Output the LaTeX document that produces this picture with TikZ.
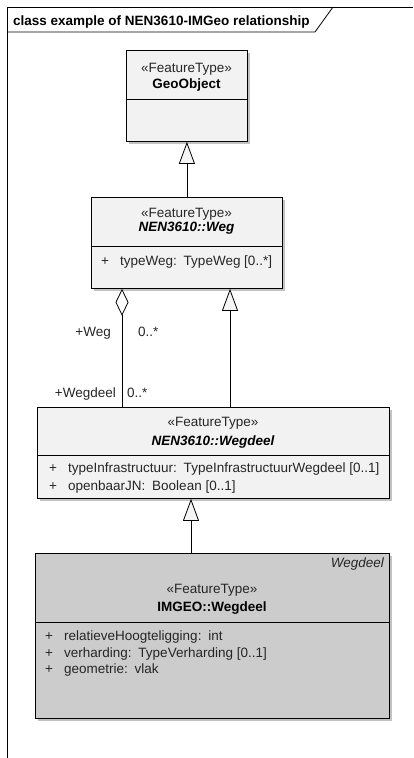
\documentclass[tikz,border=0pt]{standalone}
\usepackage{fontspec}
\setmainfont{Liberation Sans}
\usetikzlibrary{positioning,arrows.meta,shadows}

\newcommand{\plus}{\makebox[19pt][l]{+}}

\begin{document}
\begin{tikzpicture}[x=1pt,y=-1pt,font=\fontsize{13.5}{16}\selectfont,
 cls/.style={draw=black,line width=0.8pt,fill=black!5,anchor=north west,inner sep=0pt,
  drop shadow={shadow xshift=3pt,shadow yshift=-3pt,fill=black!24,opacity=1}},
 stereo/.style={anchor=base,inner sep=0pt,text=black!85},
 cname/.style={anchor=base,inner sep=0pt,font=\fontsize{13.5}{16}\selectfont\bfseries},
 attr/.style={anchor=base west,inner sep=0pt,text=black!85},
 lbl/.style={inner sep=0pt,text=black!85},
 sep/.style={line width=0.8pt},
 gen/.style={-{Triangle[length=22pt,width=16pt,fill=black!4]},line width=0.8pt},
 agg/.style={{Diamond[length=27pt,width=13pt,fill=white]}-,line width=0.8pt}]
\useasboundingbox (0,0) rectangle (413,758);
% diagram frame and title tab
\draw[line width=0.8pt] (413,7) -- (7,7) -- (7,760);
\draw[line width=0.8pt] (7,32) -- (315,32) -- (333,7);
\node[anchor=base west,inner sep=0pt,font=\fontsize{13.5}{16}\selectfont\bfseries] (title) at (13,25) {class example of NEN3610-IMGeo relationship};
% classes
\node[cls,minimum width=121pt,minimum height=91pt] (geo) at (126,50) {};
\draw[sep] (geo.west |- 0,99) -- (geo.east |- 0,99);
\node[stereo] (geost) at (186.5,72) {«FeatureType»};
\node[cname] (geonm) at (186.5,88) {GeoObject};
\node[cls,minimum width=191pt,minimum height=91pt] (weg) at (91,197) {};
\draw[sep] (weg.west |- 0,246) -- (weg.east |- 0,246);
\node[stereo] (wegst) at (186.5,217) {«FeatureType»};
\node[cname,font=\fontsize{13.5}{16}\selectfont\bfseries\itshape] (wegnm) at (186.5,231) {NEN3610::Weg};
\node[attr] (wega1) at (101,265) {\plus typeWeg:\enspace TypeWeg [0..*]};
\node[cls,minimum width=352pt,minimum height=91pt] (wegdeel) at (37,407) {};
\draw[sep] (wegdeel.west |- 0,455) -- (wegdeel.east |- 0,455);
\node[stereo] (wdst) at (213,426) {«FeatureType»};
\node[cname,font=\fontsize{13.5}{16}\selectfont\bfseries\itshape] (wdnm) at (213,445) {NEN3610::Wegdeel};
\node[attr] (wda1) at (49,472) {\plus typeInfrastructuur:\enspace TypeInfrastructuurWegdeel [0..1]};
\node[attr] (wda2) at (49,490) {\plus openbaarJN:\enspace Boolean [0..1]};
\node[cls,fill=black!20,minimum width=354pt,minimum height=165pt] (imgeo) at (35,553) {};
\draw[sep] (imgeo.west |- 0,622) -- (imgeo.east |- 0,622);
\node[lbl,anchor=base east,font=\fontsize{13.5}{16}\selectfont\itshape] (imtag) at (384,567) {Wegdeel};
\node[stereo] (imst) at (212,593) {«FeatureType»};
\node[cname] (imnm) at (212,611) {IMGEO::Wegdeel};
\node[attr] (ima1) at (45,640) {\plus relatieveHoogteligging:\enspace int};
\node[attr] (ima2) at (45,657) {\plus verharding:\enspace TypeVerharding [0..1]};
\node[attr] (ima3) at (45,673) {\plus geometrie:\enspace vlak};
% connectors
\coordinate (xa) at (122,0);
\coordinate (xg) at (230,0);
\coordinate (xi) at (191,0);
\draw[gen] (weg.north) -- (geo.south);
\draw[agg] (weg.south -| xa) -- (wegdeel.north -| xa);
\draw[gen] (wegdeel.north -| xg) -- (weg.south -| xg);
\draw[gen] (imgeo.north -| xi) -- (wegdeel.south -| xi);
% role labels
\node[lbl,anchor=base east] (rweg) at (111,336) {+Weg};
\node[lbl,anchor=base west] (mweg) at (138,336) {0..*};
\node[lbl,anchor=base east] (rwd) at (116,397) {+Wegdeel};
\node[lbl,anchor=base west] (mwd) at (127,397) {0..*};
\end{tikzpicture}
\end{document}
